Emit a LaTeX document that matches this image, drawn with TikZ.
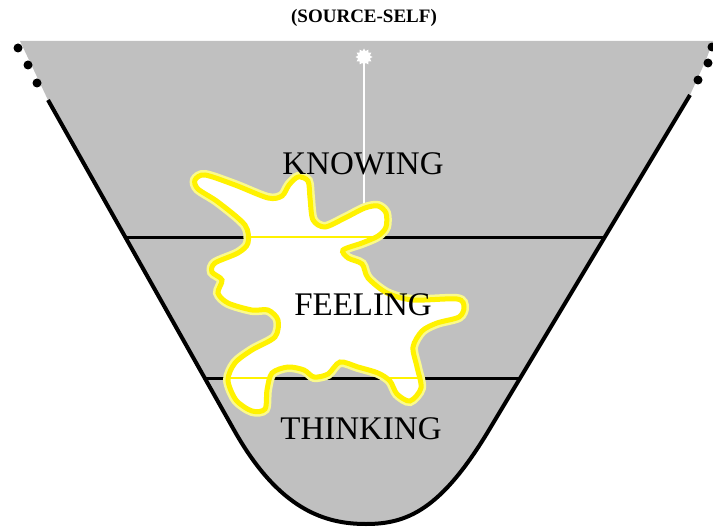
\documentclass[tikz,border=0pt]{standalone}
\usepackage{fontspec}
\setmainfont{Liberation Serif}
\usetikzlibrary{shapes.geometric}
\definecolor{funnelgray}{RGB}{192,192,192}
\definecolor{glowyellow}{RGB}{250,250,140}
\newcommand{\blobpath}{plot[smooth cycle, tension=0.5] coordinates {
  (195,180) (205,175) (235,185) (268,198) (282,196) (289,185)
  (298,177) (308,181) (310,198) (313,220) (325,227) (345,218)
  (365,208) (378,206) (386,213) (386,227) (378,236) (362,243)
  (343,250) (348,258) (362,264) (368,278) (387,293) (413,300)
  (457,299) (464,307) (459,317) (437,323) (422,331) (413,347)
  (417,367) (421,388) (410,401) (397,394) (390,381) (378,373)
  (358,367) (340,362) (328,374) (314,377) (304,370) (288,367)
  (272,373) (267,390) (265,409) (252,411) (236,400) (228,380)
  (235,363) (252,350) (275,337) (278,320) (268,310) (252,310)
  (228,303) (218,293) (222,280) (212,272) (215,263) (238,253)
  (248,243) (245,225) (218,202) (198,189)}}

\begin{document}
\begin{tikzpicture}[
    x=1pt, y=-1pt,
    level/.style={font=\fontsize{33}{33}\selectfont, inner sep=0pt},
    title/.style={font=\fontsize{19}{19}\selectfont\bfseries, inner sep=0pt},
    divider/.style={line width=3pt, black},
    dot/.style={circle, fill=black, inner sep=0pt, minimum size=9pt},
]
  \useasboundingbox (0,0) rectangle (713,527);

  % funnel body
  \fill[funnelgray] (20,41) -- (713,41) -- (706,60) -- (690,95) -- (489,430)
    .. controls (441,510) and (407,524) .. (366,524)
    .. controls (325,524) and (279,510) .. (234,430) -- (48,100) -- cycle;
  \draw[line width=4pt] (48,100) -- (234,430)
    .. controls (279,510) and (325,524) .. (366,524)
    .. controls (407,524) and (441,510) .. (489,430) -- (690,95);

  % dotted rim
  \node[dot] (dl1) at (18,48) {};
  \node[dot] (dl2) at (28,65) {};
  \node[dot] (dl3) at (37,83) {};
  \node[dot] (dr1) at (712,47) {};
  \node[dot] (dr2) at (708,63) {};
  \node[dot] (dr3) at (698,80) {};

  % level dividers
  \draw[divider] (125,237) -- (603,237);
  \draw[divider] (205,378) -- (520,378);

  % source and its ray
  \node[star, star points=12, star point ratio=1.4, fill=white,
        minimum size=17pt, inner sep=0pt] (source) at (364,57) {};
  \coordinate (stem) at (364,212);
  \draw[white, line width=2pt] (source.center) -- (stem);

  % feeling blob
  \draw[glowyellow, line width=10pt] \blobpath;
  \draw[yellow, line width=5pt, fill=white] \blobpath;
  \begin{scope}
    \clip \blobpath;
    \draw[yellow, line width=2.5pt] (125,237) -- (603,237);
    \draw[yellow, line width=2.5pt] (205,378) -- (520,378);
  \end{scope}

  \node[title] (srcself) at (364,18) {(SOURCE-SELF)};
  \node[level] (knowing)  at (363,164) {KNOWING};
  \node[level] (feeling)  at (363,305) {FEELING};
  \node[level] (thinking) at (361,429) {THINKING};
\end{tikzpicture}
\end{document}
